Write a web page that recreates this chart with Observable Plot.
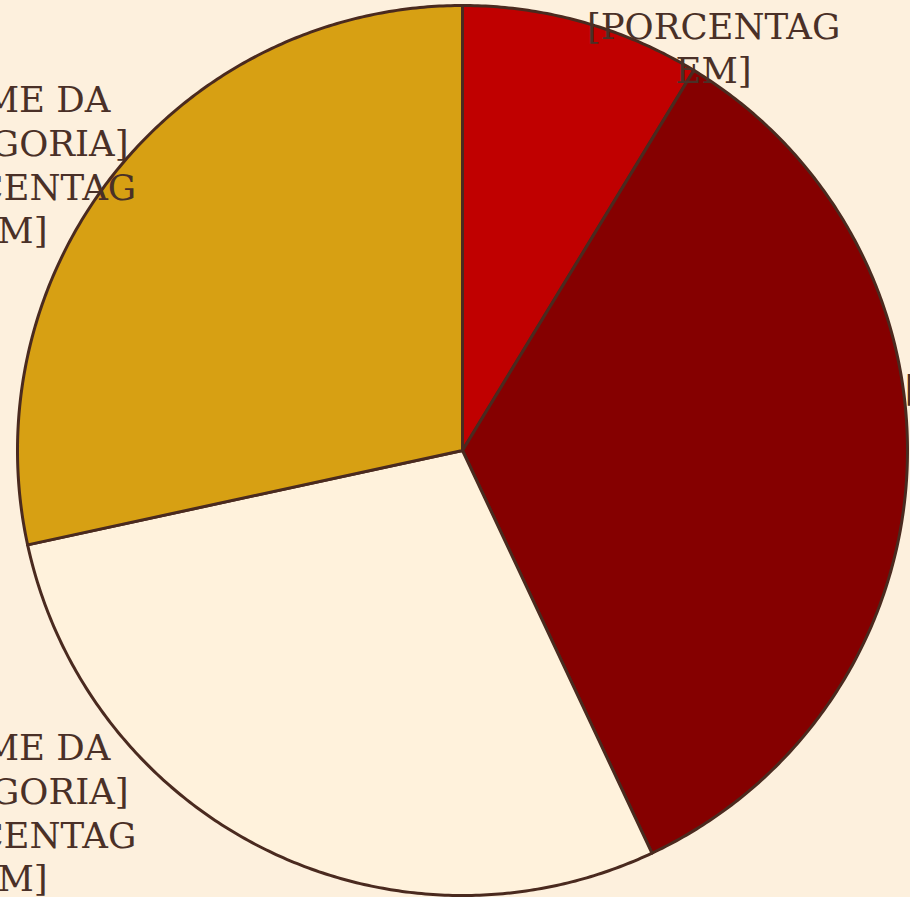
<!DOCTYPE html>
<html><head><meta charset="utf-8">
<script src="https://cdn.jsdelivr.net/npm/d3@7"></script>
<script src="https://cdn.jsdelivr.net/npm/@observablehq/plot@0.6"></script>
<style>
html,body{margin:0;padding:0;background:#fdf0dd;}
#chart{width:910px;height:897px;overflow:hidden;}
</style>
</head><body><div id="chart"></div>
<script>
// Data
const categories = ["Categoria 1", "Categoria 2", "Categoria 3", "Categoria 4"];
const values = [8.7, 34.3, 28.6, 28.4];
const labelLines = ["[NOME DA", "CATEGORIA]", "[PORCENTAG", "EM]"];
const sliceColors = ["#c00000", "#850000", "#fff2dc", "#d7a013"];

// Layout (label anchors in polar form: angle in degrees clockwise from top, radius in pie radii)
const labelAngle = [29.3, 81.5, 231.42, 302.32];
const labelRadius = [1.153, 1.293, 1.302, 1.2046];

const pie = d3.pie().sort(null).value(d => d)(values);
const slicePts = [];
pie.forEach((p, i) => {
  const cat = categories[i];
  slicePts.push({cat, x: 0, y: 0});
  const steps = Math.max(2, Math.ceil((p.endAngle - p.startAngle) / (Math.PI / 360)));
  for (let k = 0; k <= steps; k++) {
    const a = p.startAngle + (p.endAngle - p.startAngle) * k / steps;
    slicePts.push({cat, x: Math.sin(a), y: Math.cos(a)});
  }
  slicePts.push({cat, x: 0, y: 0});
});

const labels = categories.map((cat, i) => {
  const a = labelAngle[i] * Math.PI / 180;
  return {cat, x: Math.sin(a) * labelRadius[i], y: Math.cos(a) * labelRadius[i], text: labelLines.join("\n")};
});

const R = 445;
const chart = Plot.plot({
  width: 910,
  height: 897,
  margin: 0,
  style: {background: "#fdf0dd", overflow: "hidden"},
  x: {domain: [-462 / R, 448 / R], axis: null},
  y: {domain: [-447 / R, 450 / R], axis: null},
  color: {domain: categories, range: sliceColors},
  marks: [
    Plot.line(slicePts, {x: "x", y: "y", z: "cat", fill: "cat", stroke: "#4a2a1f", strokeWidth: 3, strokeLinejoin: "round"}),
    Plot.text(labels, {x: "x", y: "y", text: "text", fontSize: 35.5, fontFamily: "DejaVu Serif", lineHeight: 1.23, lineAnchor: "middle", textAnchor: "middle", fill: "#4a3027"})
  ]
});
document.getElementById("chart").appendChild(chart);
</script>
</body></html>
